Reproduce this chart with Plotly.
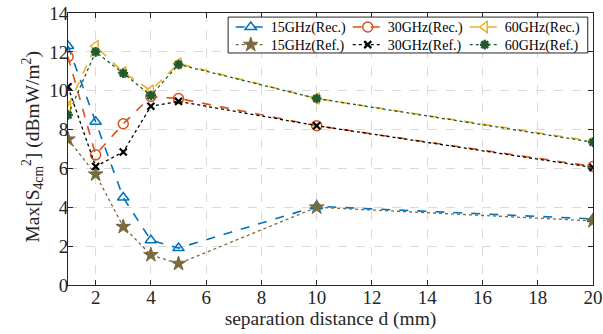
import plotly.graph_objects as go

x = [1, 2, 3, 4, 5, 10, 20]
rec15 = [12.3, 8.4, 4.5, 2.3, 1.9, 4.05, 3.4]
ref15 = [7.5, 5.7, 3.0, 1.55, 1.1, 4.0, 3.3]
rec30 = [11.75, 6.7, 8.3, 9.7, 9.6, 8.2, 6.1]
ref30 = [10.2, 6.1, 6.85, 9.2, 9.45, 8.2, 6.05]
rec60 = [9.2, 12.3, 10.95, 10.0, 11.4, 9.6, 7.4]
ref60 = [8.75, 12.0, 10.9, 9.75, 11.35, 9.6, 7.35]

names = ["15GHz(Rec.)", "30GHz(Rec.)", "60GHz(Rec.)", "15GHz(Ref.)", "30GHz(Ref.)", "60GHz(Ref.)"]
ys = [rec15, rec30, rec60, ref15, ref30, ref60]
colors = ["#0072BD", "#D95319", "#EDB120", "#7A6A40", "#000000", "#1E5C30"]
dashes = ["dash", "dash", "dash", "dot", "dot", "dot"]
symbols = ["triangle-up-open", "circle-open", "triangle-left-open", "star", "x-thin-open", "asterisk-open"]
sizes = [10, 10, 10, 11, 7, 8]
mlw = [1.5, 1.5, 1.5, 1, 2.2, 2.5]
legends = ["legend", "legend", "legend", "legend2", "legend2", "legend2"]

fig = go.Figure()
for n, yv, c, d, s, sz, lw, lg in zip(names, ys, colors, dashes, symbols, sizes, mlw, legends):
    fig.add_trace(go.Scatter(
        x=x, y=yv, name=n, mode="lines+markers", legend=lg,
        line=dict(color=c, dash=d, width=1.6 if d == "dash" else 1.3),
        marker=dict(symbol=s, size=sz, color=c, line=dict(color=c, width=lw)),
    ))

font = "Liberation Serif"
axis_common = dict(
    showline=True, linecolor="#262626", linewidth=1, mirror="ticks",
    ticks="inside", ticklen=5, tickcolor="#262626",
    showgrid=True, gridcolor="#DADADA", griddash="dash", gridwidth=1,
    zeroline=False, automargin=False,
    tickfont=dict(family=font, size=19, color="#262626"),
)
fig.update_xaxes(range=[1, 20], tickvals=[2, 4, 6, 8, 10, 12, 14, 16, 18, 20],
                 ticklabelstandoff=-5,
                 title=dict(text="separation distance d (mm)", font=dict(family=font, size=19.5, color="#262626"), standoff=0),
                 **axis_common)
fig.update_yaxes(range=[0, 14], tickvals=list(range(0, 15, 2)),
                 ticklabelstandoff=-5,
                 **axis_common)

fig.add_annotation(
    text="Max[S<sub>4cm</sub><sup>2</sup>] (dBmW/m<sup>2</sup>)",
    xref="paper", yref="paper", x=-0.068, y=0.51, xanchor="center", yanchor="middle",
    textangle=-90, showarrow=False, font=dict(family=font, size=19.5, color="#262626"),
)

leg_common = dict(
    orientation="h", xanchor="left", yanchor="top",
    bgcolor="rgba(0,0,0,0)", borderwidth=0,
    font=dict(family=font, size=14, color="#000000"),
    entrywidth=72, entrywidthmode="pixels", tracegroupgap=0, itemwidth=30,
)
lx0 = 0.31
fig.update_layout(
    width=603, height=334,
    margin=dict(l=68, r=10, t=13, b=49, autoexpand=False),
    plot_bgcolor="white", paper_bgcolor="white",
    font=dict(family=font, color="#262626"),
    legend=dict(x=lx0, y=1.006, **leg_common),
    legend2=dict(x=lx0, y=0.941, **leg_common),
    showlegend=True,
)
fig.add_shape(type="rect", xref="paper", yref="paper", x0=lx0 - 0.005, x1=0.99, y0=0.853, y1=0.985,
              line=dict(color="#262626", width=1), fillcolor="white", layer="above")

fig.write_html("out.html", post_script="document.body.style.margin='0px';",
               config={"displayModeBar": False})
